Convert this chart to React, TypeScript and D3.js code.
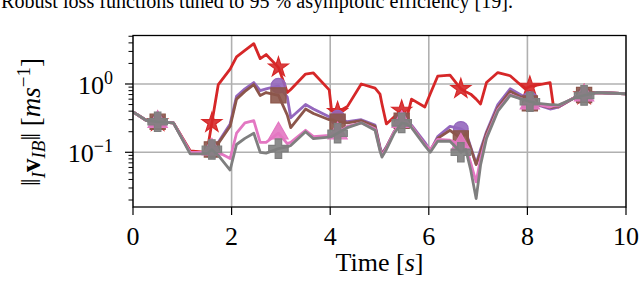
import React from "react";
import * as d3 from "d3";

// time stamps [s] shared by all five runs
const times = [
  0, 0.28, 0.5, 0.82, 1.16, 1.5, 1.6, 1.73, 1.97, 2.1, 2.27, 2.45, 2.58, 2.7, 2.95, 3.13, 3.2, 3.5,
  3.66, 3.98, 4.03, 4.15, 4.35, 4.63, 4.91, 5.01, 5.05, 5.14, 5.3, 5.45, 5.55, 5.65, 5.92, 6.03,
  6.18, 6.43, 6.65, 6.75, 6.85, 6.96, 7.05, 7.17, 7.4, 7.65, 7.95, 8.05, 8.22, 8.46, 8.53, 8.63,
  8.97, 9.15, 9.4, 10,
];

// velocity norm [m/s] per run
const redValues = [
  0.39, 0.29, 0.28, 0.27, 0.105, 0.1, 0.27, 0.98, 1.65, 2.5, 3.1, 3.9, 2.35, 2.7, 1.75, 0.75, 0.83, 1.4,
  1.45, 0.82, 0.4, 0.39, 0.47, 1.0, 0.87, 0.71, 0.51, 0.26, 0.33, 0.41, 0.31, 0.6, 0.46, 0.72,
  1.3, 1.35, 0.85, 0.77, 0.71, 0.6, 0.51, 1.05, 1.47, 1.32, 0.85, 0.92, 0.97, 1.05, 0.46, 0.46,
  0.64, 0.69, 0.75, 0.72,
];
const purpleValues = [
  0.39, 0.29, 0.28, 0.27, 0.1, 0.1, 0.105, 0.14, 0.26, 0.66, 0.85, 1.05, 0.8, 0.85, 0.94, 0.64, 0.32, 0.5,
  0.43, 0.33, 0.33, 0.32, 0.28, 0.3, 0.25, 0.12, 0.095, 0.12, 0.2, 0.3, 0.28, 0.25, 0.14, 0.105,
  0.17, 0.24, 0.22, 0.2, 0.12, 0.068, 0.11, 0.2, 0.5, 0.85, 0.64, 0.6, 0.49, 0.43, 0.44, 0.46,
  0.64, 0.69, 0.75, 0.72,
];
const brownValues = [
  0.39, 0.29, 0.28, 0.27, 0.1, 0.1, 0.11, 0.135, 0.24, 0.6, 0.78, 0.98, 0.68, 0.75, 0.68, 0.35, 0.23, 0.43,
  0.37, 0.3, 0.3, 0.28, 0.27, 0.29, 0.24, 0.115, 0.092, 0.118, 0.2, 0.29, 0.27, 0.24, 0.13, 0.105,
  0.16, 0.21, 0.16, 0.19, 0.115, 0.066, 0.1, 0.19, 0.45, 0.78, 0.6, 0.52, 0.5, 0.45, 0.46, 0.47,
  0.64, 0.69, 0.75, 0.72,
];
const pinkValues = [
  0.39, 0.29, 0.28, 0.27, 0.1, 0.1, 0.11, 0.1, 0.081, 0.19, 0.27, 0.29, 0.14, 0.14, 0.19, 0.134, 0.14, 0.21,
  0.17, 0.177, 0.18, 0.19, 0.24, 0.27, 0.22, 0.11, 0.09, 0.115, 0.2, 0.28, 0.27, 0.24, 0.13, 0.11,
  0.155, 0.15, 0.13, 0.12, 0.07, 0.037, 0.08, 0.17, 0.42, 0.7, 0.58, 0.52, 0.5, 0.46, 0.48, 0.48,
  0.64, 0.68, 0.75, 0.72,
];
const grayValues = [
  0.39, 0.29, 0.28, 0.27, 0.095, 0.095, 0.11, 0.09, 0.055, 0.13, 0.16, 0.19, 0.1, 0.097, 0.113, 0.12, 0.126, 0.2,
  0.158, 0.167, 0.17, 0.19, 0.23, 0.27, 0.21, 0.105, 0.085, 0.11, 0.19, 0.27, 0.26, 0.23, 0.125, 0.1,
  0.145, 0.145, 0.1, 0.11, 0.055, 0.021, 0.065, 0.16, 0.4, 0.68, 0.58, 0.55, 0.52, 0.5, 0.5, 0.49,
  0.63, 0.68, 0.75, 0.72,
];

// indices of samples that carry a marker
const markerIdx = [2, 6, 14, 21, 29, 36, 45, 51];

const xTicks = [0, 2, 4, 6, 8, 10];
const yMajor = [0.1, 1];
const yMajorLabels = [["10", "\u22121"], ["10", "0"]];

const series = [
  { values: redValues, color: "#d62728", symbol: d3.symbolStar, size: 120 },
  { values: purpleValues, color: "#9467bd", symbol: d3.symbolCircle, size: 170 },
  { values: brownValues, color: "#8c564b", symbol: d3.symbolSquare, size: 230 },
  { values: pinkValues, color: "#e377c2", symbol: d3.symbolTriangle, size: 160 },
  { values: grayValues, color: "#7f7f7f", symbol: d3.symbolCross, size: 210 },
];

const FONT = "'Liberation Serif', 'DejaVu Serif', serif";

export default function App() {
  const left = 133, right = 626, top = 35.5, bottom = 207;
  const x = d3.scaleLinear().domain([0, 10]).range([left, right]);
  const y = d3.scaleLog().domain([0.0158, 5.13]).range([bottom, top]);

  const yMinor: number[] = [];
  [0.01, 0.1, 1].forEach((dec) => {
    for (let k = 2; k <= 9; k++) {
      const v = dec * k;
      if (v >= 0.0158 && v <= 5.13) yMinor.push(v);
    }
  });

  const line = d3
    .line<number>()
    .x((d, i) => x(times[i]))
    .y((d) => y(d));

  return (
    <svg
      width={640}
      height={289}
      style={{ position: "absolute", left: 0, top: 0, background: "#fff" }}
      fontFamily={FONT}
    >
      <text x={1} y={7.5} fontSize={20} textLength={512} lengthAdjust="spacingAndGlyphs">
        Robust loss functions tuned to 95 % asymptotic efficiency [19].
      </text>

      {/* grid */}
      {xTicks.map((t) => (
        <line key={"gx" + t} x1={x(t)} x2={x(t)} y1={top} y2={bottom} stroke="#b0b0b0" strokeWidth={1.6} />
      ))}
      {yMajor.map((v) => (
        <line key={"gy" + v} x1={left} x2={right} y1={y(v)} y2={y(v)} stroke="#b0b0b0" strokeWidth={1.6} />
      ))}

      <defs>
        <clipPath id="plot">
          <rect x={left} y={top} width={right - left} height={bottom - top} />
        </clipPath>
      </defs>

      <g clipPath="url(#plot)">
        {series.map((s, si) => (
          <g key={si}>
            <path d={line(s.values) || ""} fill="none" stroke={s.color} strokeWidth={2.8} strokeLinejoin="round" />
            {markerIdx.map((i) => (
              <path
                key={i}
                d={d3.symbol().type(s.symbol).size(s.size)() || ""}
                transform={`translate(${x(times[i])},${y(s.values[i])})`}
                fill={s.color}
                fillOpacity={0.9}
                stroke={s.color}
                strokeWidth={1.2}
              />
            ))}
          </g>
        ))}
      </g>

      {/* frame */}
      <rect x={left} y={top} width={right - left} height={bottom - top} fill="none" stroke="#000" strokeWidth={1.3} />

      {/* x axis */}
      {xTicks.map((t) => (
        <g key={"xt" + t}>
          <line x1={x(t)} x2={x(t)} y1={bottom} y2={bottom + 8} stroke="#000" strokeWidth={1.2} />
          <text x={x(t)} y={245} fontSize={26} textAnchor="middle">
            {t}
          </text>
        </g>
      ))}
      <text x={(left + right) / 2} y={271} fontSize={26} textAnchor="middle">
        Time [<tspan fontStyle="italic">s</tspan>]
      </text>

      {/* y axis */}
      {yMinor.map((v) => (
        <line key={"ym" + v} x1={left - 4.5} x2={left} y1={y(v)} y2={y(v)} stroke="#000" strokeWidth={1} />
      ))}
      {yMajor.map((v, i) => (
        <g key={"yt" + v}>
          <line x1={left - 8} x2={left} y1={y(v)} y2={y(v)} stroke="#000" strokeWidth={1.2} />
          <text x={113} y={y(v) + 10} fontSize={26} textAnchor="end">
            {yMajorLabels[i][0]}
            <tspan fontSize={18} dy={-10}>
              {yMajorLabels[i][1]}
            </tspan>
          </text>
        </g>
      ))}
      <text transform="translate(40,122) rotate(-90)" fontSize={27} textAnchor="middle">
        {"\u2016"}
        <tspan fontStyle="italic" fontSize={19} dy={5}>
          I
        </tspan>
        <tspan fontWeight="bold" dy={-5}>
          v
        </tspan>
        <tspan fontStyle="italic" fontSize={19} dy={5}>
          IB
        </tspan>
        <tspan dy={-5}>{"\u2016 ["}</tspan>
        <tspan fontStyle="italic">ms</tspan>
        <tspan fontSize={19} dy={-10}>
          {"\u22121"}
        </tspan>
        <tspan dy={10}>]</tspan>
      </text>
    </svg>
  );
}
